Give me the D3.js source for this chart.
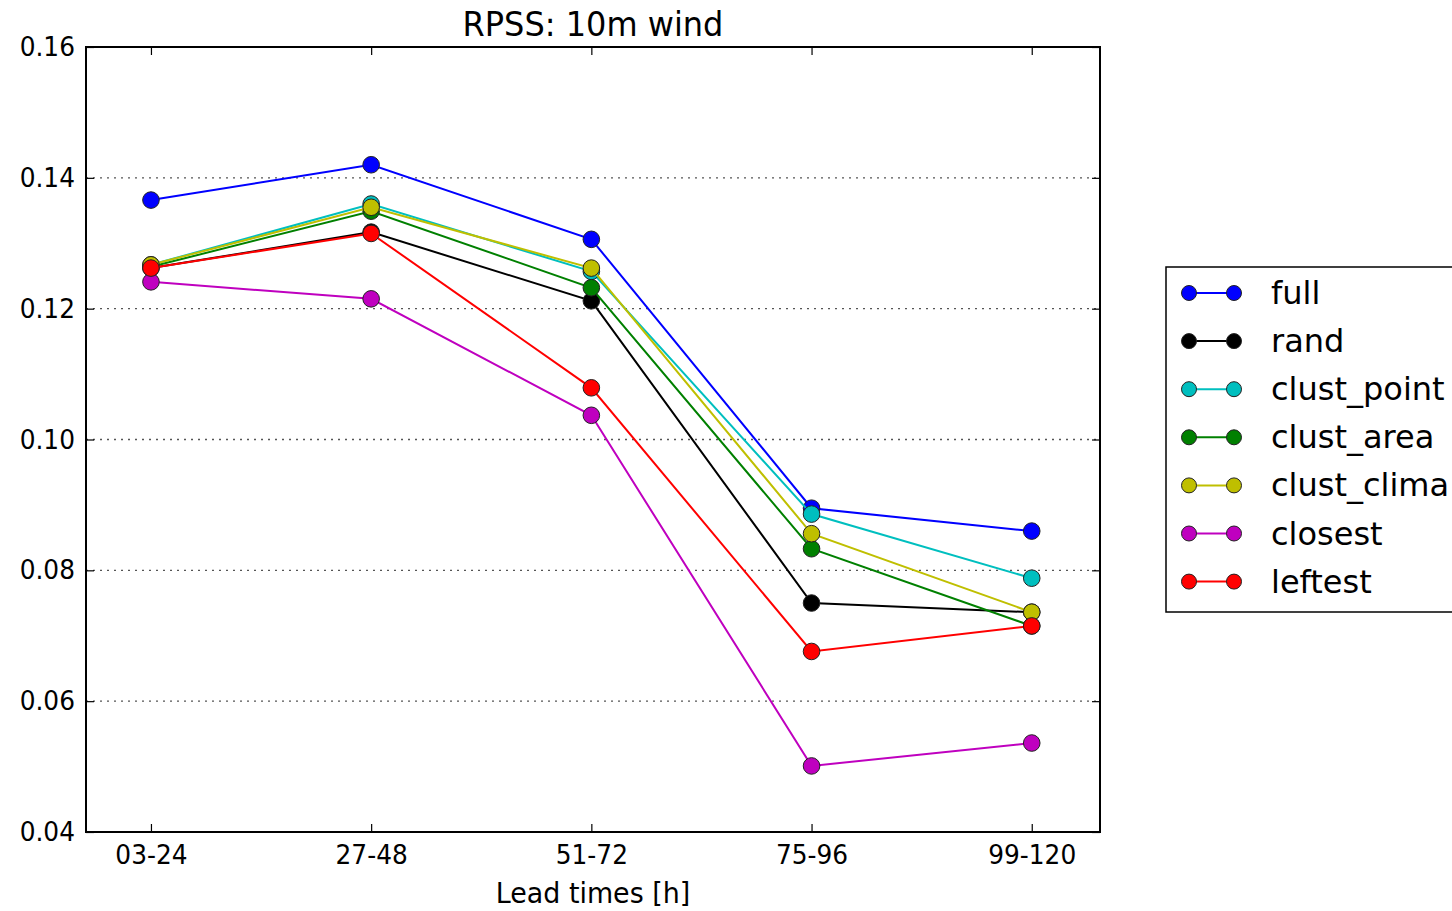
<!DOCTYPE html>
<html>
<head>
<meta charset="utf-8">
<script src="https://cdn.jsdelivr.net/npm/d3@7"></script>
<style>
  html, body { margin: 0; padding: 0; background: #fff; }
  svg text { font-family: "DejaVu Sans", sans-serif; fill: #000; }
</style>
</head>
<body>
<svg id="chart" width="1452" height="911"></svg>
<script>
// Lead-time bins on the x axis
const leadTimes = ["03-24", "27-48", "51-72", "75-96", "99-120"];
// y-axis tick values
const yTicks = [0.04, 0.06, 0.08, 0.10, 0.12, 0.14, 0.16];

// RPSS per configuration
const full       = [0.1366, 0.1420, 0.1306, 0.0895, 0.0860];
const rand       = [0.1262, 0.1317, 0.1212, 0.0750, 0.0736];
const clustPoint = [0.1267, 0.1360, 0.1257, 0.0886, 0.0788];
const clustArea  = [0.1264, 0.1349, 0.1232, 0.0833, 0.0715];
const clustClima = [0.1267, 0.1355, 0.1262, 0.0856, 0.0736];
const closest    = [0.1241, 0.1215, 0.1037, 0.0501, 0.0536];
const leftest    = [0.1262, 0.1315, 0.1079, 0.0676, 0.0715];

const seriesNames  = ["full", "rand", "clust_point", "clust_area", "clust_clima", "closest", "leftest"];
const seriesValues = [full, rand, clustPoint, clustArea, clustClima, closest, leftest];
const seriesColors = ["#0000ff", "#000000", "#00bfbf", "#008000", "#bfbf00", "#bf00bf", "#ff0000"];

const svg = d3.select("#chart");
const plot = { left: 86, right: 1100, top: 47, bottom: 832 };

const x = d3.scaleLinear().domain([-0.295, leadTimes.length - 1 + 0.31]).range([plot.left, plot.right]);
const y = d3.scaleLinear().domain([0.04, 0.16]).range([plot.bottom, plot.top]);

// dotted horizontal grid
svg.append("g")
  .selectAll("line")
  .data(yTicks.slice(1, -1))
  .join("line")
  .attr("x1", plot.left).attr("x2", plot.right)
  .attr("y1", d => y(d)).attr("y2", d => y(d))
  .attr("stroke", "#555").attr("stroke-width", 1.3)
  .attr("stroke-dasharray", "2,5");

const tickLen = 8;
const fmt = d3.format(".2f");

// left / right / top / bottom axes with inward ticks
const yLeft = d3.axisLeft(y).tickValues(yTicks).tickFormat(fmt).tickSizeInner(-tickLen).tickSizeOuter(0).tickPadding(12);
const yRight = d3.axisRight(y).tickValues(yTicks).tickFormat("").tickSizeInner(-tickLen).tickSizeOuter(0);
const xBottom = d3.axisBottom(x).tickValues(d3.range(leadTimes.length)).tickFormat(i => leadTimes[i]).tickSizeInner(-tickLen).tickSizeOuter(0).tickPadding(13);
const xTop = d3.axisTop(x).tickValues(d3.range(leadTimes.length)).tickFormat("").tickSizeInner(-tickLen).tickSizeOuter(0);

function styleAxis(g) {
  g.select(".domain").remove();
  g.selectAll(".tick line").attr("stroke", "#000").attr("stroke-width", 1.2);
  g.selectAll(".tick text")
    .attr("font-size", 27)
    .attr("font-family", "DejaVu Sans, sans-serif")
    .attr("fill", "#000")
    .attr("transform", "scale(0.92,1)");
}
svg.append("g").attr("transform", `translate(${plot.left},0)`).call(yLeft).call(styleAxis);
svg.append("g").attr("transform", `translate(${plot.right},0)`).call(yRight).call(styleAxis);
svg.append("g").attr("transform", `translate(0,${plot.bottom})`).call(xBottom).call(styleAxis);
svg.append("g").attr("transform", `translate(0,${plot.top})`).call(xTop).call(styleAxis);

// series lines and markers
const line = d3.line().x((d, i) => x(i)).y(d => y(d));
seriesValues.forEach((vals, k) => {
  const g = svg.append("g");
  g.append("path").datum(vals)
    .attr("d", line).attr("fill", "none")
    .attr("stroke", seriesColors[k]).attr("stroke-width", 2);
  g.selectAll("circle").data(vals).join("circle")
    .attr("cx", (d, i) => x(i)).attr("cy", d => y(d)).attr("r", 8.3)
    .attr("fill", seriesColors[k]).attr("stroke", "#222").attr("stroke-width", 1);
});

// frame
svg.append("rect")
  .attr("x", plot.left).attr("y", plot.top)
  .attr("width", plot.right - plot.left).attr("height", plot.bottom - plot.top)
  .attr("fill", "none").attr("stroke", "#000").attr("stroke-width", 2);

// title and axis label
const cx = (plot.left + plot.right) / 2;
svg.append("text").attr("transform", `translate(${cx},36) scale(0.97,1)`)
  .attr("text-anchor", "middle").attr("font-size", 33).text("RPSS: 10m wind");
svg.append("text").attr("transform", `translate(${cx},903) scale(0.96,1)`)
  .attr("text-anchor", "middle").attr("font-size", 28).text("Lead times [h]");

// legend
const legend = svg.append("g");
legend.append("rect").attr("x", 1166).attr("y", 267).attr("width", 300).attr("height", 345)
  .attr("fill", "#fff").attr("stroke", "#000").attr("stroke-width", 1.5);
seriesNames.forEach((name, k) => {
  const ly = 293 + k * 48.1;
  legend.append("line").attr("x1", 1189).attr("x2", 1234).attr("y1", ly).attr("y2", ly)
    .attr("stroke", seriesColors[k]).attr("stroke-width", 2);
  [1189, 1234].forEach(mx => legend.append("circle").attr("cx", mx).attr("cy", ly).attr("r", 7.5)
    .attr("fill", seriesColors[k]).attr("stroke", "#222").attr("stroke-width", 1));
  legend.append("text").attr("x", 1271).attr("y", ly + 11).attr("font-size", 32).text(name);
});
</script>
</body>
</html>
